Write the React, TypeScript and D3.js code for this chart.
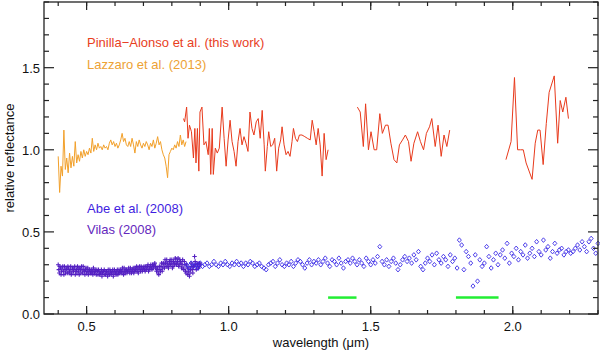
import { useEffect, useRef } from 'react';
import * as d3 from 'd3';

// Lazzaro et al. (2013), visible spectrum [wavelength, reflectance]
const lazzaro: [number, number][] = [
  [0.400, 0.96], [0.405, 0.74], [0.410, 0.90], [0.415, 0.84], [0.420, 1.12], [0.425, 0.88], [0.430, 0.95], [0.435, 0.86],
  [0.440, 0.98], [0.445, 0.89], [0.450, 0.96], [0.455, 0.90], [0.460, 1.05], [0.465, 0.92], [0.470, 0.97], [0.475, 0.93],
  [0.480, 0.99], [0.485, 0.95], [0.490, 1.00], [0.495, 0.96], [0.500, 0.99], [0.505, 0.97], [0.510, 1.01], [0.515, 0.98],
  [0.520, 1.07], [0.525, 0.99], [0.530, 1.03], [0.535, 1.00], [0.540, 1.04], [0.545, 1.01], [0.550, 1.02], [0.555, 1.00],
  [0.560, 1.03], [0.565, 1.01], [0.570, 1.02], [0.575, 1.00], [0.580, 1.04], [0.585, 1.06], [0.590, 1.03], [0.595, 1.05],
  [0.600, 1.02], [0.605, 1.04], [0.610, 1.01], [0.615, 1.03], [0.620, 1.06], [0.625, 1.10], [0.630, 1.05], [0.635, 1.07],
  [0.640, 1.03], [0.645, 1.02], [0.650, 1.05], [0.655, 1.02], [0.660, 1.07], [0.665, 1.03], [0.670, 0.98], [0.675, 1.05],
  [0.680, 1.02], [0.685, 1.06], [0.690, 1.03], [0.695, 1.01], [0.700, 1.04], [0.705, 1.02], [0.710, 1.05], [0.715, 1.03],
  [0.720, 1.00], [0.725, 1.04], [0.730, 1.02], [0.735, 1.06], [0.740, 1.01], [0.745, 1.04], [0.750, 1.08], [0.755, 1.03],
  [0.760, 1.05], [0.765, 1.00], [0.770, 0.97], [0.775, 0.95], [0.780, 0.90], [0.785, 0.83], [0.790, 0.97], [0.795, 0.99],
  [0.800, 1.01], [0.805, 1.00], [0.810, 1.03], [0.815, 1.01], [0.820, 1.05], [0.825, 1.02], [0.830, 1.09], [0.835, 1.03],
  [0.840, 1.06], [0.845, 1.02], [0.850, 1.05],
];

// Pinilla-Alonso et al. (this work), three NIR pieces
const pinilla1: [number, number][] = [
  [0.841, 1.19], [0.845, 1.17], [0.852, 1.26], [0.857, 1.07], [0.862, 1.15], [0.869, 1.11], [0.876, 0.95], [0.881, 1.13],
  [0.885, 0.92], [0.890, 1.13], [0.895, 0.87], [0.899, 1.23], [0.906, 1.26], [0.913, 1.03], [0.920, 1.05], [0.928, 0.97],
  [0.932, 1.13], [0.937, 0.85], [0.942, 1.13], [0.946, 0.85], [0.953, 1.01], [0.960, 0.98], [0.967, 1.01], [0.977, 1.26],
  [0.984, 1.07], [0.991, 0.90], [0.998, 1.06], [1.005, 1.18], [1.012, 1.05], [1.019, 0.99], [1.026, 0.90], [1.033, 1.05],
  [1.040, 1.13], [1.047, 1.03], [1.054, 1.08], [1.061, 1.04], [1.068, 0.99], [1.075, 1.23], [1.082, 1.13], [1.089, 1.09],
  [1.097, 1.17], [1.104, 1.19], [1.111, 1.07], [1.118, 1.24], [1.125, 1.03], [1.129, 0.87], [1.136, 1.02], [1.141, 1.11],
  [1.148, 1.02], [1.155, 1.03], [1.162, 1.07], [1.169, 0.87], [1.176, 1.01], [1.183, 1.06], [1.188, 1.14], [1.195, 1.03],
  [1.202, 0.97], [1.209, 0.99], [1.216, 0.96], [1.223, 1.05], [1.228, 1.13], [1.235, 1.07], [1.242, 1.05], [1.249, 1.09],
  [1.258, 1.09], [1.268, 1.08], [1.277, 1.07], [1.287, 1.06], [1.294, 1.18], [1.301, 1.11], [1.308, 1.03], [1.315, 1.13],
  [1.322, 1.03], [1.329, 0.84], [1.336, 1.10], [1.343, 0.94], [1.350, 1.00],
];
const pinilla2: [number, number][] = [
  [1.453, 1.26], [1.463, 1.23], [1.474, 1.02], [1.482, 1.28], [1.492, 1.00], [1.501, 1.11], [1.512, 1.00], [1.521, 1.00],
  [1.532, 1.22], [1.541, 1.10], [1.552, 1.15], [1.561, 1.15], [1.571, 1.04], [1.582, 0.94], [1.592, 0.92], [1.601, 1.03],
  [1.612, 1.06], [1.622, 1.09], [1.633, 1.05], [1.642, 0.93], [1.652, 1.04], [1.665, 1.11], [1.675, 1.05], [1.686, 1.00],
  [1.696, 1.10], [1.707, 1.14], [1.715, 1.19], [1.727, 1.02], [1.737, 1.15], [1.748, 0.96], [1.758, 1.09], [1.768, 1.02],
  [1.778, 1.12],
];
const pinilla3: [number, number][] = [
  [1.976, 0.94], [1.994, 1.05], [2.006, 1.44], [2.017, 1.00], [2.027, 1.00], [2.037, 1.00], [2.047, 0.92], [2.068, 0.82],
  [2.079, 1.04], [2.088, 1.12], [2.096, 1.12], [2.107, 0.91], [2.118, 1.16], [2.128, 1.35], [2.146, 1.45], [2.158, 1.04],
  [2.167, 1.30], [2.176, 1.23], [2.187, 1.32], [2.196, 1.19],
];

// Vilas (2008), visible points (plus markers)
const vilas: [number, number][] = [
  [0.400, 0.30], [0.404, 0.25], [0.408, 0.28], [0.412, 0.26], [0.416, 0.29], [0.420, 0.24], [0.424, 0.27], [0.428, 0.28],
  [0.432, 0.25], [0.436, 0.28], [0.440, 0.26], [0.444, 0.29], [0.448, 0.25], [0.452, 0.27], [0.456, 0.28], [0.460, 0.24],
  [0.464, 0.27], [0.468, 0.29], [0.472, 0.26], [0.476, 0.28], [0.480, 0.25], [0.484, 0.27], [0.488, 0.29], [0.492, 0.26],
  [0.496, 0.27], [0.500, 0.25], [0.504, 0.28], [0.508, 0.26], [0.512, 0.27], [0.516, 0.25], [0.520, 0.26], [0.524, 0.28],
  [0.528, 0.25], [0.532, 0.26], [0.536, 0.27], [0.540, 0.24], [0.544, 0.26], [0.548, 0.25], [0.552, 0.27], [0.556, 0.25],
  [0.560, 0.26], [0.564, 0.24], [0.568, 0.26], [0.572, 0.25], [0.576, 0.27], [0.580, 0.24], [0.584, 0.26], [0.588, 0.25],
  [0.592, 0.27], [0.596, 0.25], [0.600, 0.26], [0.604, 0.24], [0.608, 0.27], [0.612, 0.25], [0.616, 0.26], [0.620, 0.27],
  [0.624, 0.25], [0.628, 0.26], [0.632, 0.28], [0.636, 0.25], [0.640, 0.27], [0.644, 0.26], [0.648, 0.28], [0.652, 0.25],
  [0.656, 0.27], [0.660, 0.26], [0.664, 0.28], [0.668, 0.26], [0.672, 0.27], [0.676, 0.29], [0.680, 0.26], [0.684, 0.28],
  [0.688, 0.27], [0.692, 0.29], [0.696, 0.26], [0.700, 0.28], [0.704, 0.27], [0.708, 0.29], [0.712, 0.28], [0.716, 0.30],
  [0.720, 0.27], [0.724, 0.29], [0.728, 0.28], [0.732, 0.30], [0.736, 0.29], [0.740, 0.31], [0.744, 0.28], [0.748, 0.27],
  [0.752, 0.25], [0.756, 0.29], [0.760, 0.26], [0.764, 0.31], [0.768, 0.28], [0.772, 0.30], [0.776, 0.33], [0.780, 0.29],
  [0.784, 0.31], [0.788, 0.28], [0.792, 0.32], [0.796, 0.30], [0.800, 0.33], [0.804, 0.29], [0.808, 0.31], [0.812, 0.34],
  [0.816, 0.30], [0.820, 0.32], [0.824, 0.29], [0.828, 0.33], [0.832, 0.31], [0.836, 0.30], [0.840, 0.28], [0.844, 0.32],
  [0.848, 0.26], [0.852, 0.30], [0.856, 0.24], [0.860, 0.28], [0.864, 0.25], [0.868, 0.31], [0.872, 0.27], [0.876, 0.29],
  [0.880, 0.35], [0.884, 0.30], [0.888, 0.28], [0.892, 0.31], [0.896, 0.29], [0.900, 0.30],
  [0.402, 0.27], [0.406, 0.29], [0.410, 0.24], [0.414, 0.28], [0.418, 0.26], [0.422, 0.29], [0.426, 0.25], [0.430, 0.27],
  [0.434, 0.29], [0.438, 0.25], [0.442, 0.27], [0.446, 0.24], [0.450, 0.28], [0.454, 0.26], [0.458, 0.29], [0.462, 0.26],
  [0.466, 0.25], [0.470, 0.28], [0.474, 0.24], [0.478, 0.27], [0.482, 0.29], [0.486, 0.25], [0.490, 0.27], [0.494, 0.24],
  [0.498, 0.28], [0.502, 0.26], [0.506, 0.24], [0.510, 0.27], [0.514, 0.25], [0.518, 0.27], [0.522, 0.24], [0.526, 0.26],
  [0.530, 0.27], [0.534, 0.24], [0.538, 0.26], [0.542, 0.27], [0.546, 0.24], [0.550, 0.25], [0.554, 0.23], [0.558, 0.26],
  [0.562, 0.27], [0.566, 0.24], [0.570, 0.26], [0.574, 0.23], [0.578, 0.25], [0.582, 0.27], [0.586, 0.24], [0.590, 0.26],
  [0.594, 0.23], [0.598, 0.27], [0.602, 0.25], [0.606, 0.26], [0.610, 0.24], [0.614, 0.27], [0.618, 0.25], [0.622, 0.26],
  [0.626, 0.28], [0.630, 0.24], [0.634, 0.26], [0.638, 0.27], [0.642, 0.25], [0.646, 0.27], [0.650, 0.26], [0.654, 0.28],
  [0.658, 0.25], [0.662, 0.27], [0.666, 0.25], [0.670, 0.28], [0.674, 0.26], [0.678, 0.28], [0.682, 0.25], [0.686, 0.29],
  [0.690, 0.26], [0.694, 0.28], [0.698, 0.27], [0.702, 0.29], [0.706, 0.26], [0.710, 0.27], [0.714, 0.29], [0.718, 0.26],
  [0.722, 0.28], [0.726, 0.30], [0.730, 0.27], [0.734, 0.28], [0.738, 0.30], [0.742, 0.29], [0.746, 0.26], [0.750, 0.28],
  [0.754, 0.24], [0.758, 0.27], [0.762, 0.29], [0.766, 0.26], [0.770, 0.31], [0.774, 0.28], [0.778, 0.31], [0.782, 0.33],
  [0.786, 0.29], [0.790, 0.30], [0.794, 0.33], [0.798, 0.31], [0.802, 0.28], [0.806, 0.32], [0.810, 0.30], [0.814, 0.33],
  [0.818, 0.31], [0.822, 0.34], [0.826, 0.30], [0.830, 0.32], [0.834, 0.28], [0.838, 0.33], [0.842, 0.27], [0.846, 0.30],
  [0.850, 0.25], [0.854, 0.28], [0.858, 0.26], [0.862, 0.23], [0.866, 0.27], [0.870, 0.29], [0.874, 0.25], [0.878, 0.30],
  [0.882, 0.32], [0.886, 0.27], [0.890, 0.30], [0.894, 0.28], [0.898, 0.31],
];

// Abe et al. (2008), NIR points (diamonds)
const abe: [number, number][] = [
  [0.852, 0.30], [0.860, 0.28], [0.868, 0.31], [0.876, 0.29], [0.884, 0.30], [0.892, 0.28], [0.900, 0.31], [0.908, 0.29],
  [0.916, 0.30], [0.924, 0.31], [0.932, 0.29], [0.940, 0.30], [0.948, 0.32], [0.956, 0.30], [0.964, 0.29], [0.972, 0.31],
  [0.980, 0.30], [0.988, 0.32], [0.996, 0.30], [1.004, 0.29], [1.012, 0.31], [1.020, 0.30], [1.028, 0.32], [1.036, 0.30],
  [1.044, 0.31], [1.052, 0.29], [1.060, 0.31], [1.068, 0.30], [1.076, 0.32], [1.084, 0.31], [1.092, 0.29], [1.100, 0.30],
  [1.108, 0.31], [1.116, 0.29], [1.124, 0.28], [1.132, 0.27], [1.140, 0.30], [1.148, 0.31], [1.156, 0.32], [1.164, 0.29],
  [1.172, 0.31], [1.180, 0.33], [1.188, 0.30], [1.196, 0.29], [1.204, 0.31], [1.212, 0.30], [1.220, 0.32], [1.228, 0.29],
  [1.236, 0.31], [1.244, 0.33], [1.252, 0.32], [1.260, 0.30], [1.268, 0.28], [1.276, 0.31], [1.284, 0.33], [1.292, 0.30],
  [1.300, 0.32], [1.308, 0.31], [1.316, 0.33], [1.324, 0.30], [1.332, 0.32], [1.340, 0.34], [1.348, 0.31], [1.356, 0.29],
  [1.364, 0.33], [1.372, 0.32], [1.380, 0.30], [1.388, 0.34], [1.396, 0.31], [1.404, 0.28], [1.412, 0.32], [1.420, 0.33],
  [1.428, 0.31], [1.436, 0.34], [1.444, 0.32], [1.452, 0.30], [1.460, 0.33], [1.468, 0.31], [1.476, 0.29], [1.484, 0.34],
  [1.492, 0.32], [1.500, 0.30], [1.508, 0.33], [1.516, 0.31], [1.524, 0.35], [1.532, 0.41], [1.540, 0.32], [1.548, 0.30],
  [1.556, 0.33], [1.564, 0.29], [1.572, 0.32], [1.580, 0.34], [1.588, 0.31], [1.596, 0.27], [1.604, 0.30], [1.612, 0.33],
  [1.620, 0.35], [1.628, 0.32], [1.636, 0.34], [1.644, 0.31], [1.652, 0.36], [1.660, 0.33], [1.668, 0.38], [1.676, 0.29],
  [1.684, 0.27], [1.692, 0.31], [1.700, 0.34], [1.708, 0.32], [1.716, 0.36], [1.724, 0.30], [1.732, 0.37], [1.740, 0.33],
  [1.748, 0.31], [1.756, 0.35], [1.764, 0.33], [1.772, 0.29], [1.780, 0.36], [1.788, 0.32], [1.796, 0.34], [1.804, 0.28],
  [1.812, 0.45], [1.820, 0.42], [1.828, 0.27], [1.836, 0.38], [1.844, 0.35], [1.852, 0.31], [1.860, 0.17], [1.868, 0.36],
  [1.876, 0.20], [1.884, 0.33], [1.892, 0.29], [1.900, 0.31], [1.908, 0.41], [1.916, 0.35], [1.924, 0.28], [1.932, 0.33],
  [1.940, 0.37], [1.948, 0.30], [1.956, 0.36], [1.964, 0.39], [1.972, 0.34], [1.980, 0.43], [1.988, 0.31], [1.996, 0.37],
  [2.004, 0.35], [2.012, 0.40], [2.020, 0.33], [2.028, 0.38], [2.036, 0.36], [2.044, 0.42], [2.052, 0.34], [2.060, 0.37],
  [2.068, 0.40], [2.076, 0.35], [2.084, 0.44], [2.092, 0.38], [2.100, 0.36], [2.108, 0.45], [2.116, 0.39], [2.124, 0.41],
  [2.132, 0.34], [2.140, 0.38], [2.148, 0.43], [2.156, 0.37], [2.164, 0.39], [2.172, 0.40], [2.180, 0.36], [2.188, 0.38],
  [2.196, 0.39], [2.204, 0.37], [2.212, 0.38], [2.220, 0.40], [2.228, 0.42], [2.236, 0.39], [2.244, 0.44], [2.252, 0.41],
  [2.260, 0.38], [2.268, 0.44], [2.276, 0.46], [2.284, 0.40], [2.292, 0.37], [2.300, 0.43],
];

// telluric bands marked in green
const bands: [number, number][] = [[1.35, 1.45], [1.80, 1.95]];
const bandLevel = 0.1;

const xMajor = [0.5, 1.0, 1.5, 2.0];
const xMinor = [0.4, 0.5, 0.6, 0.7, 0.8, 0.9, 1.0, 1.1, 1.2, 1.3, 1.4, 1.5, 1.6, 1.7, 1.8, 1.9, 2.0, 2.1, 2.2, 2.3];
const yMajor = [0.0, 0.5, 1.0, 1.5];
const yMinor = [0.1, 0.2, 0.3, 0.4, 0.6, 0.7, 0.8, 0.9, 1.1, 1.2, 1.3, 1.4, 1.6, 1.7, 1.8, 1.9];

const legendTop = [
  { label: 'Pinilla\u2212Alonso et al. (this work)', color: '#e8401e' },
  { label: 'Lazzaro et al. (2013)', color: '#eda235' },
];
const legendBottom = [
  { label: 'Abe et al. (2008)', color: '#3f1ee0' },
  { label: 'Vilas (2008)', color: '#6428bd' },
];

export default function App() {
  const svgRef = useRef<SVGSVGElement>(null);

  useEffect(() => {
    const width = 600;
    const height = 350;
    const margin = { top: 2, right: 2, bottom: 36, left: 44 };

    const svg = d3.select(svgRef.current);
    svg.selectAll('*').remove();
    svg.attr('width', width).attr('height', height);

    const x = d3.scaleLinear().domain([0.35, 2.3]).range([margin.left, width - margin.right]);
    const y = d3.scaleLinear().domain([0, 1.9]).range([height - margin.bottom, margin.top]);
    const [x0, x1] = x.range();
    const [y0, y1] = y.range();
    const font = '"Liberation Sans", Arial, Helvetica, sans-serif';

    const line = d3
      .line<[number, number]>()
      .x((d) => x(d[0]))
      .y((d) => y(d[1]));

    // Vilas plus markers
    svg.append('g')
      .selectAll('path')
      .data(vilas)
      .enter()
      .append('path')
      .attr('d', (d) => `M${x(d[0]) - 2.2},${y(d[1])}h4.4M${x(d[0])},${y(d[1]) - 2.2}v4.4`)
      .attr('stroke', '#5420c2')
      .attr('stroke-width', 1.1)
      .attr('fill', 'none');

    // Abe diamonds
    svg.append('g')
      .selectAll('path')
      .data(abe)
      .enter()
      .append('path')
      .attr('d', (d) => `M${x(d[0])},${y(d[1]) - 2.3}l2,2.3l-2,2.3l-2,-2.3z`)
      .attr('stroke', '#3a2ae6')
      .attr('stroke-width', 0.9)
      .attr('fill', 'none');

    // Lazzaro line
    svg.append('path')
      .datum(lazzaro)
      .attr('d', line)
      .attr('fill', 'none')
      .attr('stroke', '#f2a02a')
      .attr('stroke-width', 1);

    // Pinilla-Alonso lines
    [pinilla1, pinilla2, pinilla3].forEach((seg) => {
      svg.append('path')
        .datum(seg)
        .attr('d', line)
        .attr('fill', 'none')
        .attr('stroke', '#e83a1c')
        .attr('stroke-width', 1);
    });

    // band markers
    svg.append('g')
      .selectAll('line')
      .data(bands)
      .enter()
      .append('line')
      .attr('x1', (d) => x(d[0]))
      .attr('x2', (d) => x(d[1]))
      .attr('y1', y(bandLevel))
      .attr('y2', y(bandLevel))
      .attr('stroke', '#22ee33')
      .attr('stroke-width', 2.5);

    // frame
    const axisColor = '#222';
    svg.append('rect')
      .attr('x', x0)
      .attr('y', y1)
      .attr('width', x1 - x0)
      .attr('height', y0 - y1)
      .attr('fill', 'none')
      .attr('stroke', axisColor)
      .attr('stroke-width', 1.3);

    const ticks = svg.append('g').attr('stroke', axisColor).attr('stroke-width', 1.2);
    const addX = (vals: number[], len: number) => {
      vals.forEach((v) => {
        ticks.append('line').attr('x1', x(v)).attr('x2', x(v)).attr('y1', y0).attr('y2', y0 - len);
        ticks.append('line').attr('x1', x(v)).attr('x2', x(v)).attr('y1', y1).attr('y2', y1 + len);
      });
    };
    const addY = (vals: number[], len: number) => {
      vals.forEach((v) => {
        ticks.append('line').attr('x1', x0).attr('x2', x0 + len).attr('y1', y(v)).attr('y2', y(v));
        ticks.append('line').attr('x1', x1).attr('x2', x1 - len).attr('y1', y(v)).attr('y2', y(v));
      });
    };
    addX(xMinor, 4);
    addX(xMajor, 8);
    addY(yMinor, 5);
    addY(yMajor, 10);

    const labels = svg.append('g').style('font-family', font).style('font-size', '13px').attr('fill', '#111');
    xMajor.forEach((v) => {
      labels.append('text')
        .attr('x', x(v))
        .attr('y', y0 + 17)
        .attr('text-anchor', 'middle')
        .text(d3.format('.1f')(v));
    });
    yMajor.forEach((v) => {
      labels.append('text')
        .attr('x', x0 - 4)
        .attr('y', y(v) + 5)
        .attr('text-anchor', 'end')
        .text(d3.format('.1f')(v));
    });
    labels.append('text')
      .attr('x', (x0 + x1) / 2)
      .attr('y', height - 3)
      .attr('text-anchor', 'middle')
      .text('wavelength (\u03bcm)');
    labels.append('text')
      .attr('transform', `translate(14,${(y0 + y1) / 2}) rotate(-90)`)
      .attr('text-anchor', 'middle')
      .text('relative reflectance');

    // legends
    const leg = svg.append('g').style('font-family', font).style('font-size', '13px');
    legendTop.forEach((d, i) => {
      leg.append('text').attr('x', 87).attr('y', 47 + i * 22).attr('fill', d.color).text(d.label);
    });
    legendBottom.forEach((d, i) => {
      leg.append('text').attr('x', 87).attr('y', 213 + i * 21).attr('fill', d.color).text(d.label);
    });
  }, []);

  return (
    <svg ref={svgRef} style={{ position: 'absolute', left: 0, top: 0, background: '#fff' }}></svg>
  );
}
